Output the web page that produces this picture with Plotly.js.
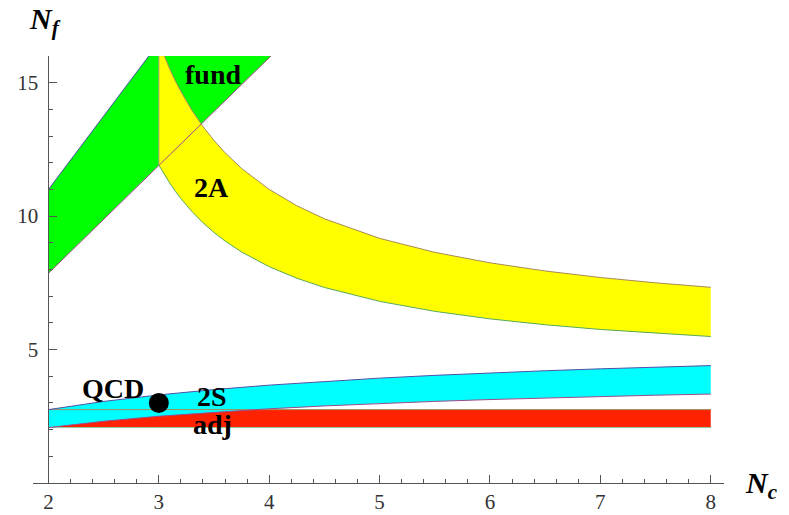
<!DOCTYPE html>
<html>
<head>
<meta charset="utf-8">
<script src="https://cdn.plot.ly/plotly-3.0.1.min.js"></script>
<style>html,body{margin:0;padding:0;background:#fff;}#chart{width:789px;height:515px;}</style>
</head>
<body>
<div id="chart"></div>
<script>
// ---- data (N_c, N_f values) ----
var fundNc    = [2, 3, 4, 4.5];
var fundUpper = [11, 16.5, 22, 24.75];
var fundLower = [7.859, 11.914, 15.938, 17.945];

var twoANc    = [3, 3.05, 3.1, 3.15, 3.2, 3.3, 3.4, 3.5, 3.6, 3.75, 4, 4.25, 4.5, 5, 5.5, 6, 6.5, 7, 7.5, 8];
var twoAUpper = [16.5, 15.976, 15.5, 15.065, 14.667, 13.962, 13.357, 12.833, 12.375, 11.786, 11, 10.389, 9.9, 9.167, 8.643, 8.25, 7.944, 7.7, 7.5, 7.333];
var twoALower = [11.914, 11.556, 11.23, 10.931, 10.657, 10.17, 9.751, 9.387, 9.068, 8.656, 8.104, 7.673, 7.327, 6.806, 6.432, 6.15, 5.93, 5.754, 5.61, 5.489];

var twoSNc    = [2, 2.5, 3, 3.5, 4, 4.5, 5, 5.5, 6, 6.5, 7, 7.5, 8];
var twoSUpper = [2.75, 3.056, 3.3, 3.5, 3.667, 3.808, 3.929, 4.033, 4.125, 4.206, 4.278, 4.342, 4.4];
var twoSLower = [2.075, 2.313, 2.502, 2.654, 2.781, 2.888, 2.979, 3.058, 3.127, 3.188, 3.242, 3.29, 3.333];

var adjNc    = [2, 8];
var adjUpper = [2.75, 2.75];
var adjLower = [2.075, 2.075];

var qcdPoint = {nc: [3], nf: [3]};

var bandLabels = ["fund", "2A", "2S", "adj", "QCD"];
var labelNc    = [3.488, 3.477, 3.479, 3.485, 2.587];
var labelNf    = [15.31, 11.09, 3.24, 2.2, 3.55];

var xTickVals = [2, 3, 4, 5, 6, 7, 8];
var yTickVals = [5, 10, 15];

// ---- helpers ----
function band(nc, up, lo, color) {
  return {
    x: nc.concat(nc.slice().reverse()),
    y: up.concat(lo.slice().reverse()),
    type: 'scatter', mode: 'lines', fill: 'toself', fillcolor: color,
    line: {width: 0}, hoverinfo: 'skip', showlegend: false
  };
}
function edge(nc, vals, color) {
  return {x: nc, y: vals, type: 'scatter', mode: 'lines',
    line: {color: color, width: 1}, hoverinfo: 'skip', showlegend: false};
}

var BLUE = '#5050a8', MAG = '#a04888', OLIVE = '#a88a58', GRN = '#58a858';

var traces = [
  band(fundNc, fundUpper, fundLower, '#00ff00'),
  band(twoANc, twoAUpper, twoALower, '#ffff00'),
  band(adjNc, adjUpper, adjLower, '#ff2200'),
  band(twoSNc, twoSUpper, twoSLower, '#00ffff'),
  edge(fundNc, fundUpper, BLUE),
  edge(fundNc, fundLower, MAG),
  edge(twoANc, twoAUpper, OLIVE),
  edge(twoANc, twoALower, GRN),
  edge([twoANc[0], twoANc[0]], [twoALower[0], twoAUpper[0]], '#a0a070'),
  edge(adjNc, adjUpper, OLIVE),
  edge(adjNc, adjLower, '#90d0a0'),
  edge(twoSNc, twoSUpper, BLUE),
  edge(twoSNc, twoSLower, MAG),
  {x: qcdPoint.nc, y: qcdPoint.nf, type: 'scatter', mode: 'markers',
   marker: {color: '#000', size: 20}, hoverinfo: 'skip', showlegend: false}
];

var annotations = bandLabels.map(function (t, i) {
  return {x: labelNc[i], y: labelNf[i], xref: 'x', yref: 'y', text: '<b>' + t + '</b>',
    showarrow: false, xanchor: 'center', yanchor: 'middle',
    font: {family: 'Liberation Serif', size: 28, color: '#000'}};
});
annotations.push({x: -0.008, y: 1.082, xref: 'paper', yref: 'paper', text: '<b><i>N<sub>f</sub></i></b>',
  showarrow: false, xanchor: 'left', yanchor: 'middle',
  font: {family: 'Liberation Serif', size: 30, color: '#000'}});
annotations.push({x: 1.027, y: -0.004, xref: 'paper', yref: 'paper', text: '<b><i>N<sub>c</sub></i></b>',
  showarrow: false, xanchor: 'left', yanchor: 'middle',
  font: {family: 'Liberation Serif', size: 30, color: '#000'}});

var layout = {
  width: 789, height: 515,
  margin: {l: 33, r: 65, t: 56, b: 32, pad: 0},
  paper_bgcolor: '#fff', plot_bgcolor: '#fff',
  showlegend: false,
  xaxis: {
    range: [1.86, 8.12], showgrid: false, zeroline: false,
    showline: true, linecolor: '#555', linewidth: 1,
    tickmode: 'array', tickvals: xTickVals, ticks: 'inside', ticklen: 8, tickcolor: '#555',
    minor: {tickmode: 'linear', tick0: 2, dtick: 0.2, ticks: 'inside', ticklen: 4, tickcolor: '#555'},
    tickfont: {family: 'Liberation Serif', size: 21, color: '#333'},
    ticklabelstandoff: 0
  },
  yaxis: {
    range: [0, 16], showgrid: false, zeroline: false,
    anchor: 'free', position: (2 - 1.86) / (8.12 - 1.86), side: 'left',
    showline: true, linecolor: '#555', linewidth: 1,
    tickmode: 'array', tickvals: yTickVals, ticks: 'inside', ticklen: 8, tickcolor: '#555',
    minor: {tickmode: 'linear', tick0: 0, dtick: 1, ticks: 'inside', ticklen: 4, tickcolor: '#555'},
    tickfont: {family: 'Liberation Serif', size: 21, color: '#333'},
    ticklabelstandoff: 6
  },
  annotations: annotations
};

Plotly.newPlot('chart', traces, layout, {displayModeBar: false, staticPlot: true});
</script>
</body>
</html>
